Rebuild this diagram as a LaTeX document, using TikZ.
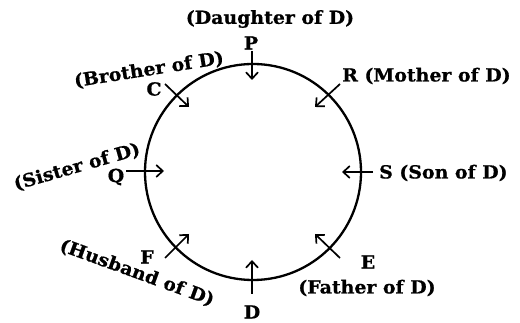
\documentclass[tikz,border=0pt]{standalone}
\usepackage{fontspec}
\setmainfont{DejaVu Serif}[FakeStretch=1.05,BoldFeatures={FakeBold=0.8}]
\usetikzlibrary{arrows.meta}
\begin{document}
\begin{tikzpicture}[x=1pt,y=-1pt,
  lbl/.style={font=\fontsize{18}{20}\selectfont\bfseries, inner sep=0pt},
  ptr/.style={line width=1.7pt, -{Straight Barb[length=6.5pt,width=12pt,line width=1.7pt]}},
  ring/.style={draw, circle, line width=2.3pt, minimum size=216pt, inner sep=0pt}]
\useasboundingbox (0,0) rectangle (520,323);
\node[ring] (ring) at (253,172) {};
% P
\node[lbl] (dau) at (270,19) {(Daughter of D)};
\node[lbl] (P) at (251,43) {P};
\coordinate (p1) at (252,51); \coordinate (p2) at (252,80);
\draw[ptr] (p1) -- (p2);
% C
\node[lbl, rotate=9] (bro) at (149,70) {(Brother of D)};
\node[lbl] (C) at (154,89) {C};
\coordinate (c1) at (165,84); \coordinate (c2) at (189,107);
\draw[ptr] (c1) -- (c2);
% R
\node[lbl, anchor=west] (R) at (342,76) {R (Mother of D)};
\coordinate (r1) at (340,84); \coordinate (r2) at (315,107);
\draw[ptr] (r1) -- (r2);
% S
\node[lbl, anchor=west] (S) at (379,173) {S (Son of D)};
\coordinate (s1) at (373,172); \coordinate (s2) at (342,172);
\draw[ptr] (s1) -- (s2);
% Q
\node[lbl, rotate=16] (sis) at (77,167) {(Sister of D)};
\node[lbl] (Q) at (116,177) {Q};
\coordinate (q1) at (126,171); \coordinate (q2) at (164,171);
\draw[ptr] (q1) -- (q2);
% F
\node[lbl, rotate=-20] (hus) at (137,273) {(Husband of D)};
\node[lbl] (F) at (147,257) {F};
\coordinate (f1) at (165,258); \coordinate (f2) at (189,234);
\draw[ptr] (f1) -- (f2);
% D
\node[lbl] (D) at (252,312) {D};
\coordinate (d1) at (252,294); \coordinate (d2) at (252,260);
\draw[ptr] (d1) -- (d2);
% E
\node[lbl] (E) at (368,262) {E};
\node[lbl] (fat) at (367,288) {(Father of D)};
\coordinate (e1) at (340,258); \coordinate (e2) at (315,234);
\draw[ptr] (e1) -- (e2);
\end{tikzpicture}
\end{document}
